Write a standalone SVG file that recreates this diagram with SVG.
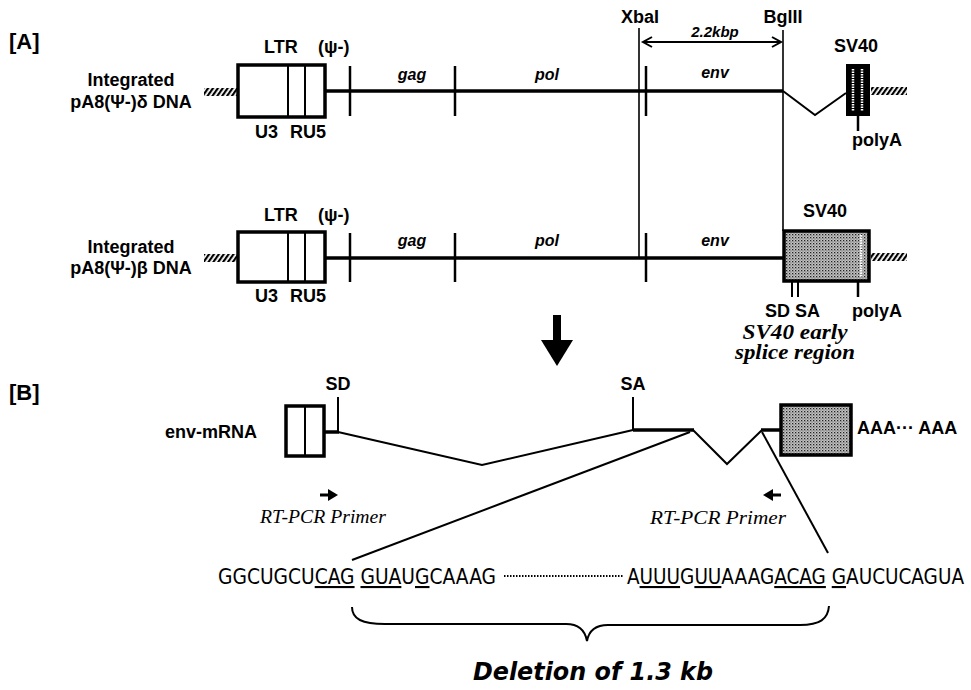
<svg xmlns="http://www.w3.org/2000/svg" width="971" height="690" viewBox="0 0 971 690">
<defs>
<style>
.b{font-family:"Liberation Sans",Arial,sans-serif;font-weight:bold;font-size:18px;fill:#000}
.bi{font-family:"Liberation Sans",Arial,sans-serif;font-weight:bold;font-style:italic;font-size:16px;fill:#000}
.si{font-family:"Liberation Serif","Times New Roman",serif;font-style:italic;font-size:18px;fill:#000}
.sbi{font-family:"Liberation Serif","Times New Roman",serif;font-style:italic;font-weight:bold;font-size:20px;fill:#000}
.seq{font-family:"DejaVu Sans Condensed","DejaVu Sans",sans-serif;font-size:21px;fill:#000}
.u{text-decoration:underline}
.del{font-family:"DejaVu Sans",sans-serif;font-weight:bold;font-style:italic;font-size:24px;fill:#000}
.thick{stroke:#000;stroke-width:3.5;fill:none}
.tick{stroke:#000;stroke-width:2.5;fill:none}
.thin{stroke:#000;stroke-width:1.6;fill:none}
.med{stroke:#000;stroke-width:2;fill:none}
.box{fill:#fff;stroke:#000;stroke-width:3.5}
</style>
<pattern id="hatch" width="4" height="10" patternUnits="userSpaceOnUse" patternTransform="rotate(35)">
<rect width="2.2" height="10" fill="#000"/>
</pattern>
<pattern id="dots" width="3" height="3" patternUnits="userSpaceOnUse">
<rect width="3" height="3" fill="#c4c4c4"/>
<rect x="0" y="0" width="1.3" height="1.3" fill="#222"/>
<rect x="1.5" y="1.5" width="1" height="1" fill="#444"/>
</pattern>
</defs>
<rect width="971" height="690" fill="#fff"/>

<text class="b" x="9" y="49" style="font-size:22px">[A]</text>
<text class="b" x="9" y="400" style="font-size:22px">[B]</text>

<!-- Row 1 -->
<g id="label-delta">
<text class="b" x="131" y="86" text-anchor="middle">Integrated</text>
<text class="b" x="131" y="108" text-anchor="middle">pA8(Ψ-)δ DNA</text>
</g>
<g id="ltr1">
<rect x="204" y="88" width="34" height="8" fill="url(#hatch)"/>
<rect class="box" x="238" y="65" width="87" height="52"/>
<line class="med" x1="288" y1="65" x2="288" y2="117"/>
<line class="med" x1="305" y1="65" x2="305" y2="117"/>
<text class="b" x="264" y="53">LTR</text>
<text class="b" x="318" y="53">(ψ-)</text>
<text class="b" x="255" y="138">U3</text>
<text class="b" x="290" y="138">RU5</text>
</g>
<g id="genes1">
<line class="thick" x1="325" y1="91" x2="783" y2="91"/>
<line class="tick" x1="350" y1="66" x2="350" y2="116"/>
<line class="tick" x1="455" y1="66" x2="455" y2="116"/>
<line class="tick" x1="646" y1="66" x2="646" y2="116"/>
<text class="bi" x="412" y="80" text-anchor="middle">gag</text>
<text class="bi" x="547" y="80" text-anchor="middle">pol</text>
<text class="bi" x="715" y="78" text-anchor="middle">env</text>
</g>
<g id="sv40-1">
<polyline class="med" points="783,91 815,115 846,93"/>
<rect x="846" y="64" width="24" height="52" fill="#000"/>
<line x1="853" y1="69" x2="853" y2="111" stroke="#fff" stroke-width="2.5" stroke-dasharray="1.5 1"/>
<line x1="862" y1="69" x2="862" y2="111" stroke="#fff" stroke-width="2.5" stroke-dasharray="1.5 1"/>
<rect x="871" y="87" width="36" height="8" fill="url(#hatch)"/>
<line class="tick" x1="858" y1="116" x2="858" y2="131"/>
<text class="b" x="856" y="52" text-anchor="middle">SV40</text>
<text class="b" x="877" y="146" text-anchor="middle">polyA</text>
</g>

<!-- restriction sites -->
<g id="sites">
<line class="thin" x1="639" y1="28" x2="639" y2="258"/>
<line class="thin" x1="783" y1="30" x2="783" y2="231"/>
<text class="b" x="640" y="23" text-anchor="middle">XbaI</text>
<text class="b" x="783" y="23" text-anchor="middle">BglII</text>
<line class="med" x1="643" y1="42" x2="781" y2="42"/>
<polyline class="med" points="652,37 643,42 652,47"/>
<polyline class="med" points="772,37 781,42 772,47"/>
<text class="bi" x="715" y="37" text-anchor="middle" style="font-size:15px">2.2kbp</text>
</g>

<!-- Row 2 -->
<g id="label-beta">
<text class="b" x="131" y="253" text-anchor="middle">Integrated</text>
<text class="b" x="131" y="274" text-anchor="middle">pA8(Ψ-)β DNA</text>
</g>
<g id="ltr2">
<rect x="204" y="254" width="34" height="8" fill="url(#hatch)"/>
<rect class="box" x="238" y="232" width="87" height="50"/>
<line class="med" x1="288" y1="232" x2="288" y2="282"/>
<line class="med" x1="305" y1="232" x2="305" y2="282"/>
<text class="b" x="264" y="221">LTR</text>
<text class="b" x="318" y="221">(ψ-)</text>
<text class="b" x="255" y="302">U3</text>
<text class="b" x="290" y="302">RU5</text>
</g>
<g id="genes2">
<line class="thick" x1="325" y1="258" x2="783" y2="258"/>
<line class="tick" x1="350" y1="233" x2="350" y2="282"/>
<line class="tick" x1="455" y1="233" x2="455" y2="282"/>
<line class="tick" x1="646" y1="233" x2="646" y2="282"/>
<text class="bi" x="412" y="246" text-anchor="middle">gag</text>
<text class="bi" x="547" y="246" text-anchor="middle">pol</text>
<text class="bi" x="715" y="246" text-anchor="middle">env</text>
</g>
<g id="sv40-2">
<rect x="784" y="231" width="85" height="50" fill="url(#dots)" stroke="#000" stroke-width="3.5"/>
<line x1="861" y1="235" x2="861" y2="277" stroke="#fff" stroke-width="2.5" stroke-dasharray="1.5 1"/>
<rect x="871" y="253" width="36" height="8" fill="url(#hatch)"/>
<line class="med" x1="792" y1="282" x2="792" y2="297"/>
<line class="med" x1="798" y1="282" x2="798" y2="297"/>
<line class="tick" x1="858" y1="282" x2="858" y2="297"/>
<text class="b" x="825" y="217" text-anchor="middle">SV40</text>
<text class="b" x="765" y="317">SD SA</text>
<text class="b" x="877" y="317" text-anchor="middle">polyA</text>
<text class="sbi" x="795" y="339" text-anchor="middle" textLength="105" lengthAdjust="spacingAndGlyphs">SV40 early</text>
<text class="sbi" x="795" y="359" text-anchor="middle" textLength="120" lengthAdjust="spacingAndGlyphs">splice region</text>
</g>

<!-- big arrow -->
<g id="down-arrow">
<rect x="553" y="315" width="8" height="27" fill="#000"/>
<polygon points="541,340 573,340 557,366" fill="#000"/>
</g>

<!-- [B] mRNA -->
<g id="mrna">
<text class="b" x="165" y="438">env-mRNA</text>
<rect class="box" x="286" y="406" width="38" height="50"/>
<line class="med" x1="305" y1="406" x2="305" y2="456"/>
<text class="b" x="338" y="390" text-anchor="middle">SD</text>
<text class="b" x="633" y="390" text-anchor="middle">SA</text>
<rect x="781" y="405" width="70" height="50" fill="url(#dots)" stroke="#000" stroke-width="3.5"/>
<text class="b" x="857" y="434">AAA··· AAA</text>
</g>
<g id="connectors">
<line class="thick" x1="324" y1="432" x2="339" y2="432"/>
<line class="med" x1="338" y1="397" x2="338" y2="432"/>
<polyline class="med" points="338,432 482,465 633,430"/>
<line class="med" x1="633" y1="397" x2="633" y2="431"/>
<line class="thick" x1="633" y1="430" x2="694" y2="430"/>
<polyline class="med" points="693,430 727,464 762,430"/>
<line class="thick" x1="761" y1="430" x2="781" y2="430"/>
<line class="med" x1="690" y1="432" x2="352" y2="560"/>
<line class="med" x1="762" y1="432" x2="828" y2="553"/>
</g>
<g id="primers">
<line x1="320" y1="495" x2="331" y2="495" stroke="#000" stroke-width="3"/>
<polygon points="328,489 338,495 328,501" fill="#000"/>
<line x1="770" y1="495" x2="781" y2="495" stroke="#000" stroke-width="3"/>
<polygon points="773,489 763,495 773,501" fill="#000"/>
<text class="si" x="323" y="523" text-anchor="middle" textLength="126" lengthAdjust="spacingAndGlyphs">RT-PCR Primer</text>
<text class="si" x="718" y="524" text-anchor="middle" textLength="136" lengthAdjust="spacingAndGlyphs">RT-PCR Primer</text>
</g>

<!-- sequence -->
<g id="sequence">
<text class="seq" x="218" y="584" textLength="278" lengthAdjust="spacingAndGlyphs">GGCUGCU<tspan class="u">CAG</tspan> <tspan class="u">GUA</tspan>U<tspan class="u">G</tspan>CAAAG</text>
<line x1="504" y1="576" x2="623" y2="576" stroke="#000" stroke-width="2.2" stroke-dasharray="1.5 1.5"/>
<text class="seq" x="627" y="584" textLength="337" lengthAdjust="spacingAndGlyphs">A<tspan class="u">UUU</tspan>G<tspan class="u">UU</tspan>AAAG<tspan class="u">ACAG</tspan> <tspan class="u">G</tspan>AUCUCAGUA</text>
</g>

<g id="brace">
<path class="med" d="M352,607 C352,619 362,624 385,624 L566,624 C578,624 585,630 587,641 C589,630 596,625 608,625 L800,625 C820,625 828,619 829,606"/>
<text class="del" x="593" y="680" text-anchor="middle" textLength="240" lengthAdjust="spacingAndGlyphs">Deletion of 1.3 kb</text>
</g>
</svg>
